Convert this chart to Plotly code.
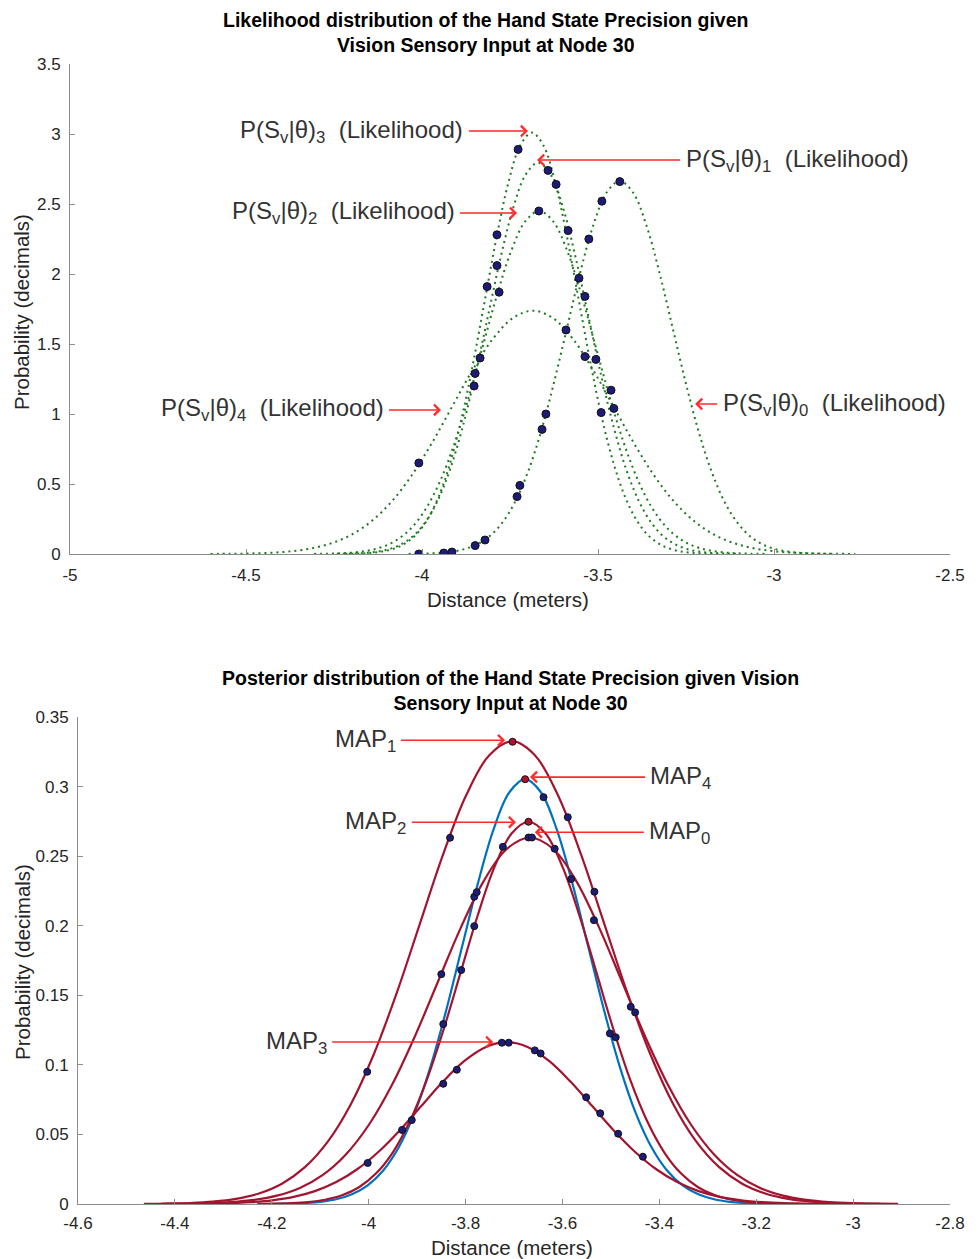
import plotly.graph_objects as go

# ---------------- Top chart: likelihood curves ----------------
lik0_x = [-4.038, -4.0005, -3.963, -3.9255, -3.888, -3.8505, -3.813, -3.7755, -3.738, -3.7005, -3.663,
          -3.6255, -3.588, -3.5505, -3.513, -3.4755, -3.438, -3.4005, -3.363, -3.3255, -3.288, -3.2505,
          -3.213, -3.1755, -3.138, -3.1005, -3.063, -3.0255, -2.988, -2.9505, -2.913, -2.8755, -2.838]
lik0_y = [0.00089, 0.00236, 0.00583, 0.01355, 0.02959, 0.06072, 0.11705, 0.21195, 0.36053, 0.57613, 0.86487,
          1.21967, 1.61580, 2.01089, 2.35097, 2.58204, 2.664, 2.58204, 2.35097, 2.01089, 1.61580, 1.21967,
          0.86487, 0.57613, 0.36053, 0.21195, 0.11705, 0.06072, 0.02959, 0.01355, 0.00583, 0.00236, 0.00089]

lik1_x = [-4.242, -4.2063, -4.1705, -4.1348, -4.099, -4.0633, -4.0275, -3.9918, -3.956, -3.9203, -3.8845,
          -3.8488, -3.813, -3.7773, -3.7415, -3.7058, -3.670, -3.6343, -3.5985, -3.5628, -3.527, -3.4913,
          -3.4555, -3.4198, -3.384, -3.3483, -3.3125, -3.2768, -3.241, -3.2053, -3.1695, -3.1338, -3.098]
lik1_y = [0.00094, 0.00247, 0.00611, 0.01422, 0.03105, 0.06371, 0.12280, 0.22237, 0.37826, 0.60446, 0.90740,
          1.27964, 1.69525, 2.10978, 2.46658, 2.70901, 2.795, 2.70901, 2.46658, 2.10978, 1.69525, 1.27964,
          0.90740, 0.60446, 0.37826, 0.22237, 0.12280, 0.06371, 0.03105, 0.01422, 0.00611, 0.00247, 0.00094]

lik2_x = [-4.307, -4.267, -4.227, -4.187, -4.147, -4.107, -4.067, -4.027, -3.987, -3.947, -3.907,
          -3.867, -3.827, -3.787, -3.747, -3.707, -3.667, -3.627, -3.587, -3.547, -3.507, -3.467,
          -3.427, -3.387, -3.347, -3.307, -3.267, -3.227, -3.187, -3.147, -3.107, -3.067, -3.027]
lik2_y = [0.00082, 0.00217, 0.00536, 0.01246, 0.02722, 0.05585, 0.10765, 0.19492, 0.33157, 0.52985, 0.79540,
          1.12169, 1.48600, 1.84936, 2.16212, 2.37462, 2.45, 2.37462, 2.16212, 1.84936, 1.48600, 1.12169,
          0.79540, 0.52985, 0.33157, 0.19492, 0.10765, 0.05585, 0.02722, 0.01246, 0.00536, 0.00217, 0.00082]

lik3_x = [-4.218, -4.1849, -4.1518, -4.1186, -4.0855, -4.0524, -4.0193, -3.9861, -3.953, -3.9199, -3.8868,
          -3.8536, -3.8205, -3.7874, -3.7543, -3.7211, -3.688, -3.6549, -3.6218, -3.5886, -3.5555, -3.5224,
          -3.4893, -3.4561, -3.423, -3.3899, -3.3568, -3.3236, -3.2905, -3.2574, -3.2243, -3.1911, -3.158]
lik3_y = [0.00101, 0.00266, 0.00658, 0.01531, 0.03344, 0.06861, 0.13225, 0.23948, 0.40736, 0.65096, 0.97720,
          1.37808, 1.82566, 2.27207, 2.65632, 2.91739, 3.01, 2.91739, 2.65632, 2.27207, 1.82566, 1.37808,
          0.97720, 0.65096, 0.40736, 0.23948, 0.13225, 0.06861, 0.03344, 0.01531, 0.00658, 0.00266, 0.00101]

lik4_x = [-4.601, -4.5438, -4.4865, -4.4293, -4.372, -4.3148, -4.2575, -4.2003, -4.143, -4.0858, -4.0285,
          -3.9713, -3.914, -3.8568, -3.7995, -3.7423, -3.685, -3.6278, -3.5705, -3.5133, -3.456, -3.3988,
          -3.3415, -3.2843, -3.227, -3.1698, -3.1125, -3.0553, -2.998, -2.9408, -2.8835, -2.8263, -2.769]
lik4_y = [0.00058, 0.00154, 0.00380, 0.00884, 0.01931, 0.03962, 0.07636, 0.13828, 0.23521, 0.37587, 0.56424,
          0.79571, 1.05415, 1.31191, 1.53378, 1.68452, 1.738, 1.68452, 1.53378, 1.31191, 1.05415, 0.79571,
          0.56424, 0.37587, 0.23521, 0.13828, 0.07636, 0.03962, 0.01931, 0.00884, 0.00380, 0.00154, 0.00058]

lik_dots_x = [-3.727, -3.642, -3.619, -3.438, -3.489, -3.668, -3.585, -3.526, -3.787,
              -3.787, -3.815, -3.781, -3.554, -3.537, -3.591, -3.835, -3.849, -3.852,
              -3.537, -3.506, -3.463, -3.455, -3.491, -3.648, -3.659, -3.722, -3.730,
              -4.009, -3.821, -3.849, -3.915, -3.938, -4.009]
lik_dots_y = [2.89, 2.74, 2.64, 2.66, 2.52, 2.45, 2.31, 2.25, 2.28,
              2.06, 1.91, 1.87, 1.97, 1.84, 1.60, 1.40, 1.29, 1.20,
              1.41, 1.39, 1.17, 1.04, 1.01, 1.00, 0.89, 0.49, 0.41,
              0.65, 0.10, 0.06, 0.014, 0.007, 0.0]

top_xticks = [-5, -4.5, -4, -3.5, -3, -2.5]
top_xtext = ["-5", "-4.5", "-4", "-3.5", "-3", "-2.5"]
top_yticks = [0, 0.5, 1, 1.5, 2, 2.5, 3, 3.5]
top_ytext = ["0", "0.5", "1", "1.5", "2", "2.5", "3", "3.5"]

# ---------------- Bottom chart: posterior curves ----------------
map0_x = [-4.427, -4.3795, -4.332, -4.2845, -4.237, -4.1895, -4.142, -4.0945, -4.047, -3.9995, -3.952,
          -3.9045, -3.857, -3.8095, -3.762, -3.7145, -3.667, -3.6195, -3.572, -3.5245, -3.477, -3.4295,
          -3.382, -3.3345, -3.287, -3.2395, -3.192, -3.1445, -3.097, -3.0495, -3.002, -2.9545, -2.907]
map0_y = [0.000088, 0.000233, 0.000576, 0.001340, 0.002926, 0.006004, 0.011573, 0.020956, 0.035647,
          0.056964, 0.085513, 0.120593, 0.159760, 0.198825, 0.232450, 0.255296, 0.2634, 0.255296,
          0.232450, 0.198825, 0.159760, 0.120593, 0.085513, 0.056964, 0.035647, 0.020956, 0.011573,
          0.006004, 0.002926, 0.001340, 0.000576, 0.000233, 0.000088]

map1_x = [-4.464, -4.4165, -4.369, -4.3215, -4.274, -4.2265, -4.179, -4.1315, -4.084, -4.0365, -3.989,
          -3.9415, -3.894, -3.8465, -3.799, -3.7515, -3.704, -3.6565, -3.609, -3.5615, -3.514, -3.4665,
          -3.419, -3.3715, -3.324, -3.2765, -3.229, -3.1815, -3.134, -3.0865, -3.039, -2.9915, -2.944]
map1_y = [0.000111, 0.000294, 0.000727, 0.001692, 0.003695, 0.007581, 0.014613, 0.026462, 0.045013,
          0.071930, 0.107979, 0.152275, 0.201732, 0.251060, 0.293519, 0.322367, 0.3326, 0.322367,
          0.293519, 0.251060, 0.201732, 0.152275, 0.107979, 0.071930, 0.045013, 0.026462, 0.014613,
          0.007581, 0.003695, 0.001692, 0.000727, 0.000294, 0.000111]

map2_x = [-4.23, -4.195, -4.16, -4.125, -4.09, -4.055, -4.02, -3.985, -3.95, -3.915, -3.88,
          -3.845, -3.81, -3.775, -3.74, -3.705, -3.67, -3.635, -3.60, -3.565, -3.53, -3.495,
          -3.46, -3.425, -3.39, -3.355, -3.32, -3.285, -3.25, -3.215, -3.18, -3.145, -3.11]
map2_y = [0.000092, 0.000243, 0.000601, 0.001397, 0.003052, 0.006261, 0.012070, 0.021855, 0.037177,
          0.059408, 0.089182, 0.125767, 0.166614, 0.207355, 0.242422, 0.266248, 0.2747, 0.266248,
          0.242422, 0.207355, 0.166614, 0.125767, 0.089182, 0.059408, 0.037177, 0.021855, 0.012070,
          0.006261, 0.003052, 0.001397, 0.000601, 0.000243, 0.000092]

map3_x = [-4.419, -4.375, -4.331, -4.287, -4.243, -4.199, -4.155, -4.111, -4.067, -4.023, -3.979,
          -3.935, -3.891, -3.847, -3.803, -3.759, -3.715, -3.671, -3.627, -3.583, -3.539, -3.495,
          -3.451, -3.407, -3.363, -3.319, -3.275, -3.231, -3.187, -3.143, -3.099, -3.055, -3.011]
map3_y = [0.000039, 0.000103, 0.000254, 0.000591, 0.001292, 0.002651, 0.005110, 0.009253, 0.015739,
          0.025152, 0.037757, 0.053246, 0.070540, 0.087788, 0.102634, 0.112721, 0.1163, 0.112721,
          0.102634, 0.087788, 0.070540, 0.053246, 0.037757, 0.025152, 0.015739, 0.009253, 0.005110,
          0.002651, 0.001292, 0.000591, 0.000254, 0.000103, 0.000039]

map4_x = [-4.197, -4.1645, -4.132, -4.0995, -4.067, -4.0345, -4.002, -3.9695, -3.937, -3.9045, -3.872,
          -3.8395, -3.807, -3.7745, -3.742, -3.7095, -3.677, -3.6445, -3.612, -3.5795, -3.547, -3.5145,
          -3.482, -3.4495, -3.417, -3.3845, -3.352, -3.3195, -3.287, -3.2545, -3.222, -3.1895, -3.157]
map4_y = [0.000102, 0.000270, 0.000668, 0.001553, 0.003392, 0.006959, 0.013414, 0.024290, 0.041318,
          0.066026, 0.099116, 0.139776, 0.185174, 0.230453, 0.269426, 0.295906, 0.3053, 0.295906,
          0.269426, 0.230453, 0.185174, 0.139776, 0.099116, 0.066026, 0.041318, 0.024290, 0.013414,
          0.006959, 0.003392, 0.001553, 0.000668, 0.000270, 0.000102]

post_dots_x = [-3.639, -3.589, -3.832, -3.670, -3.663, -3.723, -3.616, -3.582, -3.534,
               -3.782, -3.777, -3.535, -3.782, -3.850, -3.809, -3.459, -3.450, -3.846,
               -3.502, -3.490, -4.003, -3.725, -3.711, -3.657, -3.645, -3.818, -3.846,
               -3.911, -3.931, -4.002, -3.551, -3.522, -3.485, -3.434]
post_dots_y = [0.2924, 0.278, 0.2632, 0.2634, 0.2634, 0.2567, 0.2553, 0.2335, 0.2244,
               0.2208, 0.2241, 0.204, 0.1997, 0.1652, 0.1681, 0.1417, 0.1377, 0.1293,
               0.1226, 0.1198, 0.095, 0.1159, 0.1159, 0.1104, 0.1082, 0.0965, 0.0864,
               0.0603, 0.0532, 0.0295, 0.0767, 0.0652, 0.0505, 0.034]
map_peak_x = [-3.703, -3.677, -3.670]
map_peak_y = [0.3322, 0.3053, 0.2747]

bot_xticks = [-4.6, -4.4, -4.2, -4, -3.8, -3.6, -3.4, -3.2, -3, -2.8]
bot_xtext = ["-4.6", "-4.4", "-4.2", "-4", "-3.8", "-3.6", "-3.4", "-3.2", "-3", "-2.8"]
bot_yticks = [0, 0.05, 0.1, 0.15, 0.2, 0.25, 0.3, 0.35]
bot_ytext = ["0", "0.05", "0.1", "0.15", "0.2", "0.25", "0.3", "0.35"]

# ---------------- styling ----------------
W, H = 978, 1259
GREEN = "#1f7a1f"
DRED = "#a2142f"
BLUE = "#0072bd"
NAVY = "#1c1c78"
ARROW = "#ff2a2a"
TXT = "#333333"
FONT = "Arial"

fig = go.Figure()

for xs, ys in [(lik4_x, lik4_y), (lik2_x, lik2_y), (lik1_x, lik1_y), (lik3_x, lik3_y), (lik0_x, lik0_y)]:
    fig.add_trace(go.Scatter(x=xs, y=ys, mode="lines", xaxis="x", yaxis="y",
                             line=dict(color=GREEN, width=2, dash="2px,4px", shape="spline"),
                             showlegend=False, hoverinfo="skip"))
fig.add_trace(go.Scatter(x=lik_dots_x, y=lik_dots_y, mode="markers", xaxis="x", yaxis="y",
                         marker=dict(color=NAVY, size=8, line=dict(color="#111", width=1)),
                         showlegend=False, hoverinfo="skip"))

fig.add_trace(go.Scatter(x=map4_x, y=map4_y, mode="lines", xaxis="x2", yaxis="y2",
                         line=dict(color=BLUE, width=2.2, shape="spline"),
                         showlegend=False, hoverinfo="skip"))
for xs, ys in [(map3_x, map3_y), (map0_x, map0_y), (map2_x, map2_y), (map1_x, map1_y)]:
    fig.add_trace(go.Scatter(x=xs, y=ys, mode="lines", xaxis="x2", yaxis="y2",
                             line=dict(color=DRED, width=2.2, shape="spline"),
                             showlegend=False, hoverinfo="skip"))
fig.add_trace(go.Scatter(x=post_dots_x, y=post_dots_y, mode="markers", xaxis="x2", yaxis="y2",
                         marker=dict(color=NAVY, size=7, line=dict(color="#111", width=1)),
                         showlegend=False, hoverinfo="skip"))
fig.add_trace(go.Scatter(x=map_peak_x, y=map_peak_y, mode="markers", xaxis="x2", yaxis="y2",
                         marker=dict(color="#b0122e", size=7, line=dict(color="#111", width=1)),
                         showlegend=False, hoverinfo="skip"))

axis_common = dict(showline=True, linecolor="#8c8c8c", linewidth=1, ticks="inside",
                   ticklen=5, tickcolor="#8c8c8c", showgrid=False, zeroline=False,
                   tickfont=dict(family=FONT, size=17, color="#262626"), automargin=False)

fig.update_layout(
    width=W, height=H, margin=dict(l=0, r=0, t=0, b=0),
    paper_bgcolor="white", plot_bgcolor="white",
    xaxis=dict(domain=[70 / W, 950 / W], anchor="y", range=[-5, -2.5],
               tickvals=top_xticks, ticktext=top_xtext, ticklabelstandoff=6, **axis_common),
    yaxis=dict(domain=[1 - 554 / H, 1 - 64 / H], anchor="x", range=[0, 3.5],
               tickvals=top_yticks, ticktext=top_ytext, ticklabelstandoff=5, **axis_common),
    xaxis2=dict(domain=[78 / W, 950 / W], anchor="y2", range=[-4.6, -2.8],
                tickvals=bot_xticks, ticktext=bot_xtext, ticklabelstandoff=4, **axis_common),
    yaxis2=dict(domain=[1 - 1204 / H, 1 - 717 / H], anchor="x2", range=[0, 0.35],
                tickvals=bot_yticks, ticktext=bot_ytext, ticklabelstandoff=5, **axis_common),
)

ann = []
# titles
ann.append(dict(x=485 / W, y=1 - 33 / H, xref="paper", yref="paper", showarrow=False,
                text="<b>Likelihood distribution of the Hand State Precision given<br>Vision Sensory Input at Node 30</b>",
                font=dict(family=FONT, size=19.5, color="black"), xanchor="center", yanchor="middle"))
ann.append(dict(x=510 / W, y=1 - 690 / H, xref="paper", yref="paper", showarrow=False,
                text="<b>Posterior distribution of the Hand State Precision given Vision<br>Sensory Input at Node 30</b>",
                font=dict(family=FONT, size=19.5, color="black"), xanchor="center", yanchor="middle"))
# axis titles
for (px, py) in [(22, 312), (22, 962)]:
    ann.append(dict(x=px / W, y=1 - py / H, xref="paper", yref="paper", showarrow=False,
                    text="Probability (decimals)", textangle=-90,
                    font=dict(family=FONT, size=20.5, color="#262626"), xanchor="center", yanchor="middle"))
for (px, py) in [(508, 600), (512, 1247)]:
    ann.append(dict(x=px / W, y=1 - py / H, xref="paper", yref="paper", showarrow=False,
                    text="Distance (meters)",
                    font=dict(family=FONT, size=20.5, color="#262626"), xanchor="center", yanchor="middle"))

def lik_label(k):
    return "P(S<sub>v</sub>|θ)<sub>%d</sub>\u00a0\u00a0(Likelihood)" % k

# (k, arrow head x, head y, text-centre offset in px)
top_labels = [
    (3, -3.699, 3.021, -176),
    (1, -3.673, 2.814, 260),
    (2, -3.730, 2.436, -174),
    (4, -3.946, 1.029, -169),
    (0, -3.224, 1.071, 139),
]
for k, hx, hy, ax in top_labels:
    ann.append(dict(x=hx, y=hy, xref="x", yref="y", showarrow=True, text=lik_label(k),
                    ax=ax, ay=0, arrowhead=4, arrowsize=1.3, arrowwidth=1.6, arrowcolor=ARROW,
                    borderpad=5, font=dict(family=FONT, size=24, color=TXT)))

bot_labels = [
    (1, -3.7185, 0.3333, -140),
    (4, -3.667, 0.3068, 151),
    (2, -3.696, 0.2744, -140),
    (0, -3.657, 0.2672, 145),
    (3, -3.743, 0.1164, -197),
]
for k, hx, hy, ax in bot_labels:
    ann.append(dict(x=hx, y=hy, xref="x2", yref="y2", showarrow=True,
                    text="MAP<sub>%d</sub>" % k,
                    ax=ax, ay=0, arrowhead=4, arrowsize=1.3, arrowwidth=1.6, arrowcolor=ARROW,
                    borderpad=5, font=dict(family=FONT, size=24, color=TXT)))

fig.update_layout(annotations=ann)
fig.write_html("out.html", config={"displayModeBar": False},
               post_script="document.body.style.margin='0';document.body.style.overflow='hidden';")
